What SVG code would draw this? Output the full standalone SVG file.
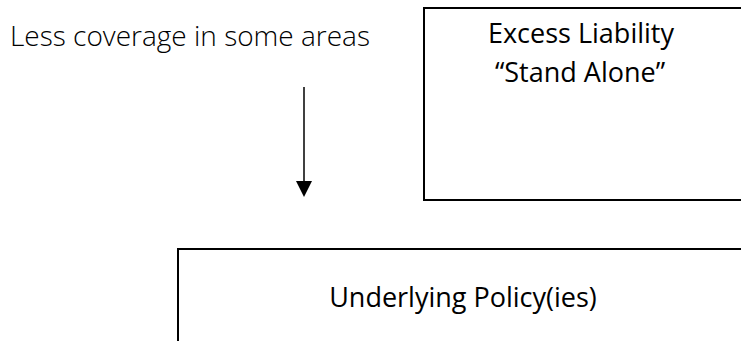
<svg xmlns="http://www.w3.org/2000/svg" width="741" height="341" viewBox="0 0 741 341">
<defs>
<style>
.box{fill:#fff;stroke:#000;stroke-width:2}
.lbl{font-family:"Open Sans","Liberation Sans",sans-serif;font-size:27px;fill:#000}
.light{font-weight:300;font-size:28px}
.conn{stroke:#000;stroke-width:1.5;fill:none}
</style>
</defs>
<rect width="741" height="341" fill="#fff"/>
<g id="note">
<text class="lbl light" x="10" y="46">Less coverage in some areas</text>
</g>
<g id="excess">
<rect class="box" x="424" y="8" width="330" height="192"/>
<text class="lbl" x="581" y="43" text-anchor="middle">Excess Liability</text>
<text class="lbl" x="580" y="82" text-anchor="middle">“Stand Alone”</text>
</g>
<g id="underlying">
<rect class="box" x="178" y="249" width="580" height="110"/>
<text class="lbl" x="463" y="307" text-anchor="middle">Underlying Policy(ies)</text>
</g>
<g id="connectors">
<line class="conn" x1="304" y1="87" x2="304" y2="182"/>
<path d="M296,181 L312,181 L304,197 z" fill="#000"/>
</g>
</svg>
